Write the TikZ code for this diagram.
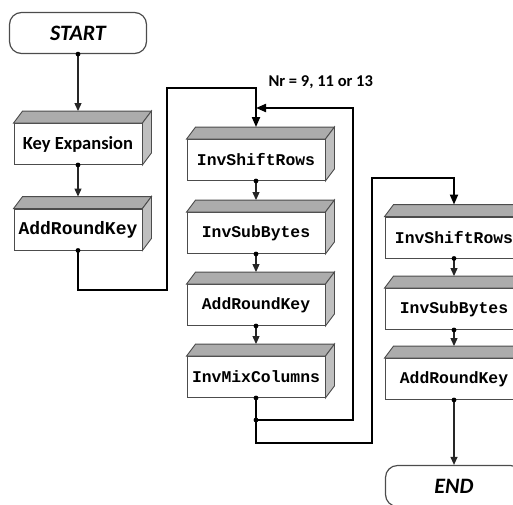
\documentclass[tikz,border=0pt]{standalone}
\usepackage{fontspec}
\setmonofont{Liberation Mono}
\newfontfamily\calib{Carlito}
\usetikzlibrary{positioning,arrows.meta}

\begin{document}
\begin{tikzpicture}[x=1pt,y=-1pt,
  term/.style={draw=gray!60!black, line width=1.2pt, rounded corners=12pt, minimum width=137pt, minimum height=41pt, inner sep=0pt, font=\fontsize{22}{24}\selectfont\calib\bfseries\itshape},
  box/.style={draw=gray!60!black, line width=0.9pt, fill=white, minimum width=138pt, minimum height=41pt, inner sep=0pt, font=\fontsize{16.4}{18}\selectfont\ttfamily\bfseries},
  lbox/.style={box, minimum width=128pt, font=\fontsize{18}{20}\selectfont\ttfamily\bfseries},
  bevtop/.style={fill=gray!65, draw=gray!60!black, line width=0.9pt},
  bevside/.style={fill=gray!50, draw=gray!60!black, line width=0.9pt},
  arr/.style={draw=black!85, line width=1.1pt, -{Triangle[length=8pt,width=7pt]}},
  bigarr/.style={draw=black, line width=2pt, -{Triangle[length=10pt,width=8pt]}},
  thickline/.style={draw=black, line width=2pt},
  jdot/.style={fill=black}
]
\useasboundingbox (0,0) rectangle (513,504);
\clip (0,0) rectangle (513,504);

% terminals
\node[term] (start) at (78,33) {START};
\node[term] (end) at (454,486) {END};

% left column
\node[lbox, font=\fontsize{18.5}{20}\selectfont\calib\bfseries] (ke) at (78,144) {Key Expansion};
\node[lbox] (ark1) at (78,229.5) {AddRoundKey};

% middle column (rounds)
\node[box] (isr1) at (256,160) {InvShiftRows};
\node[box] (isb1) at (256,233) {InvSubBytes};
\node[box] (ark2) at (256,305) {AddRoundKey};
\node[box] (imc) at (256,377) {InvMixColumns};

% right column (final round)
\node[box] (isr2) at (454,237.5) {InvShiftRows};
\node[box] (isb2) at (454,309) {InvSubBytes};
\node[box] (ark3) at (454,379) {AddRoundKey};

% 3d look
\foreach \n in {ke,ark1,isr1,isb1,ark2,imc,isr2,isb2,ark3} {
  \filldraw[bevtop] (\n.north west) -- ++(9pt,12pt) -- ([shift={(9pt,12pt)}]\n.north east) -- (\n.north east) -- cycle;
  \filldraw[bevside] (\n.north east) -- ++(9pt,12pt) -- ([shift={(9pt,12pt)}]\n.south east) -- (\n.south east) -- cycle;
}

% round counter
\node[anchor=west, font=\fontsize{16.5}{18}\selectfont\calib\bfseries] (nr) at (265,82) {Nr = 9, 11 or 13};

% helper points
\coordinate (c1) at (167,290);
\coordinate (c2) at (167,88);
\coordinate (j) at (256,420);
\coordinate (r1) at (353,108);
\coordinate (c4) at (372,443);
\coordinate (c5) at (372,178);

% straight arrows
\draw[arr] (start.south) -- ([yshift=12pt]ke.north);
\draw[arr] (ke.south) -- ([yshift=12pt]ark1.north);
\draw[arr] (isr1.south) -- ([yshift=12pt]isb1.north);
\draw[arr] (isb1.south) -- ([yshift=12pt]ark2.north);
\draw[arr] (ark2.south) -- ([yshift=12pt]imc.north);
\draw[arr] (isr2.south) -- ([yshift=12pt]isb2.north);
\draw[arr] (isb2.south) -- ([yshift=12pt]ark3.north);
\draw[arr] (ark3.south) -- (end.north);

% into the rounds
\draw[bigarr] (ark1.south) |- (c1) -- (c2) -| ([yshift=12pt]isr1.north);
% loop back
\draw[thickline] (imc.south) -- (j);
\draw[bigarr] (j) -| (r1) -- (isr1.north |- r1);
% to final round
\draw[bigarr] (j) |- (c4) -- (c5) -| ([yshift=12pt]isr2.north);

% dots
\foreach \n in {start,ke,ark1,isr1,isb1,ark2,imc,isr2,isb2,ark3}
  \fill[jdot] (\n.south) circle (2.4pt);
\fill[jdot] (j) circle (2.4pt);

\end{tikzpicture}
\end{document}
